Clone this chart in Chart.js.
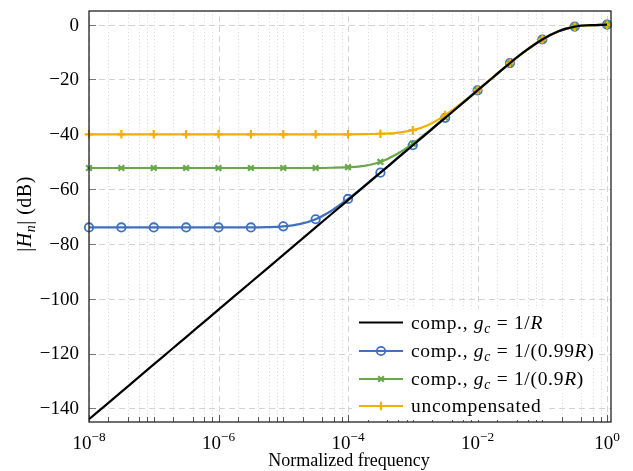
<!DOCTYPE html>
<html>
<head>
<meta charset="utf-8">
<script src="https://cdn.jsdelivr.net/npm/chart.js@4.4.0/dist/chart.umd.min.js"></script>
<style>
  html, body { margin: 0; padding: 0; background: #fff; }
  #wrap { width: 633px; height: 471px; position: relative; }
</style>
</head>
<body>
<div id="wrap"><canvas id="chart"></canvas></div>
<script>
// frequency points, as powers of ten (quarter decades)
const freqExp = [-8, -7.75, -7.5, -7.25, -7, -6.75, -6.5, -6.25, -6, -5.75, -5.5, -5.25, -5, -4.75, -4.5, -4.25,
    -4, -3.75, -3.5, -3.25, -3, -2.75, -2.5, -2.25, -2, -1.75, -1.5, -1.25, -1, -0.75, -0.5, -0.25, 0];

// |H_n| in dB
const compIdeal = [-144, -139, -134, -129, -124, -119, -114, -109, -104, -99, -94, -89, -84, -79, -74, -69,
    -64, -59, -54, -49, -44, -39, -34, -29, -24, -19, -14, -9.4, -5.4, -2.4, -0.7, -0.15, 0];
const comp099 = [-74, -74, -74, -74, -74, -74, -74, -74, -74, -74, -74, -73.9, -73.6, -72.8, -71.0, -67.8,
    -63.6, -58.9, -54.0, -49, -44, -39, -34, -29, -24, -19, -14, -9.4, -5.4, -2.4, -0.7, -0.15, 0];
const comp090 = [-52.3, -52.3, -52.3, -52.3, -52.3, -52.3, -52.3, -52.3, -52.3, -52.3, -52.3, -52.3, -52.3, -52.3, -52.3, -52.2,
    -52.0, -51.5, -50.1, -47.3, -43.4, -38.8, -33.9, -29, -24, -19, -14, -9.4, -5.4, -2.4, -0.7, -0.15, 0];
const uncomp = [-40, -40, -40, -40, -40, -40, -40, -40, -40, -40, -40, -40, -40, -40, -40, -40,
    -40, -39.95, -39.8, -39.5, -38.5, -36.5, -33.0, -28.7, -23.9, -19, -14, -9.4, -5.4, -2.4, -0.7, -0.15, 0];

const xTickExp = [-8, -6, -4, -2, 0];
const yTicks = [0, -20, -40, -60, -80, -100, -120, -140];

const colors = {
    black: '#000000',
    blue: '#3f6fc0',
    green: '#68a84a',
    orange: '#f0b000'
};

const serif = '"Liberation Serif", "Times New Roman", serif';

const toPoints = function (vals) {
    return vals.map(function (v, i) { return { x: Math.pow(10, freqExp[i]), y: v }; });
};

// markers only on the half-decade points
const markerAt = function (r) {
    return function (ctx) { return ctx.dataIndex % 2 === 0 ? r : 0; };
};

// legend rows, math parts in italic
const legendRows = [
    { color: colors.black, marker: null,
      parts: [{ t: 'comp., ' }, { t: 'g', i: 1 }, { t: 'c', i: 1, sub: 1 }, { t: ' = 1/' }, { t: 'R', i: 1 }] },
    { color: colors.blue, marker: 'circle',
      parts: [{ t: 'comp., ' }, { t: 'g', i: 1 }, { t: 'c', i: 1, sub: 1 }, { t: ' = 1/(0.99' }, { t: 'R', i: 1 }, { t: ')' }] },
    { color: colors.green, marker: 'crossRot',
      parts: [{ t: 'comp., ' }, { t: 'g', i: 1 }, { t: 'c', i: 1, sub: 1 }, { t: ' = 1/(0.9' }, { t: 'R', i: 1 }, { t: ')' }] },
    { color: colors.orange, marker: 'cross', parts: [{ t: 'uncompensated' }] }
];

function partFont(p, size) {
    let s = p.sub || p.sup ? size * 0.7 : size;
    return (p.i ? 'italic ' : '') + s + 'px ' + serif;
}

function richWidth(ctx, parts, size, sp) {
    let w = 0;
    ctx.letterSpacing = (sp || 0) + 'px';
    parts.forEach(function (p) {
        ctx.font = partFont(p, size);
        w += ctx.measureText(p.t).width;
    });
    ctx.letterSpacing = '0px';
    return w;
}

function drawRich(ctx, x, y, parts, size, sp) {
    ctx.textAlign = 'left';
    ctx.textBaseline = 'alphabetic';
    ctx.letterSpacing = (sp || 0) + 'px';
    parts.forEach(function (p) {
        ctx.font = partFont(p, size);
        let dy = p.sub ? size * 0.22 : (p.sup ? -size * 0.42 : 0);
        ctx.fillText(p.t, x, y + dy);
        x += ctx.measureText(p.t).width;
    });
    ctx.letterSpacing = '0px';
    return x;
}

function drawMarker(ctx, type, x, y, color) {
    ctx.save();
    ctx.strokeStyle = color;
    ctx.lineWidth = type === 'circle' ? 1.8 : 2.2;
    ctx.setLineDash([]);
    ctx.beginPath();
    if (type === 'circle') {
        ctx.arc(x, y, 4.2, 0, Math.PI * 2);
    } else if (type === 'crossRot') {
        ctx.moveTo(x - 2.8, y - 2.8); ctx.lineTo(x + 2.8, y + 2.8);
        ctx.moveTo(x - 2.8, y + 2.8); ctx.lineTo(x + 2.8, y - 2.8);
    } else if (type === 'cross') {
        ctx.moveTo(x, y - 4.3); ctx.lineTo(x, y + 4.3);
        ctx.moveTo(x - 4.3, y); ctx.lineTo(x + 4.3, y);
    }
    ctx.stroke();
    ctx.restore();
}

const gridPlugin = {
    id: 'pgfGrid',
    beforeDatasetsDraw(chart) {
        const ctx = chart.ctx;
        const area = chart.chartArea;
        const xs = chart.scales.x, ys = chart.scales.y;
        ctx.save();
        ctx.lineWidth = 1;

        // minor grid: 2,4,6,8 x 10^k and odd decades
        ctx.strokeStyle = '#d6d6d6';
        ctx.setLineDash([1, 2.5]);
        for (let d = -8; d < 0; d++) {
            [2, 4, 6, 8, 10].forEach(function (m) {
                let v = m * Math.pow(10, d);
                if (m === 10 && (d + 1) % 2 === 0) return;
                let px = Math.round(xs.getPixelForValue(v)) + 0.5;
                ctx.beginPath();
                ctx.moveTo(px, area.top);
                ctx.lineTo(px, area.bottom);
                ctx.stroke();
            });
        }

        // major grid
        ctx.strokeStyle = '#d2d2d2';
        ctx.setLineDash([6, 4]);
        xTickExp.forEach(function (e) {
            let px = Math.round(xs.getPixelForValue(Math.pow(10, e))) + 0.5;
            ctx.beginPath();
            ctx.moveTo(px, area.bottom);
            ctx.lineTo(px, area.top);
            ctx.stroke();
        });
        yTicks.forEach(function (t) {
            let py = Math.round(ys.getPixelForValue(t)) + 0.5;
            ctx.beginPath();
            ctx.moveTo(area.left, py);
            ctx.lineTo(area.right, py);
            ctx.stroke();
        });

        // tick marks, pointing inward
        ctx.setLineDash([]);
        ctx.strokeStyle = '#555';
        for (let d = -8; d < 0; d++) {
            [2, 4, 6, 8, 10].forEach(function (m) {
                let v = m * Math.pow(10, d);
                if (m === 10 && (d + 1) % 2 === 0) return;
                let px = Math.round(xs.getPixelForValue(v)) + 0.5;
                ctx.beginPath();
                ctx.moveTo(px, area.bottom);
                ctx.lineTo(px, area.bottom - 5);
                ctx.stroke();
            });
        }
        xTickExp.forEach(function (e) {
            let px = Math.round(xs.getPixelForValue(Math.pow(10, e))) + 0.5;
            ctx.beginPath();
            ctx.moveTo(px, area.bottom);
            ctx.lineTo(px, area.bottom - 7);
            ctx.stroke();
        });
        ctx.strokeStyle = '#777';
        yTicks.forEach(function (t) {
            let py = Math.round(ys.getPixelForValue(t)) + 0.5;
            ctx.beginPath();
            ctx.moveTo(area.left, py);
            ctx.lineTo(area.left + 7, py);
            ctx.stroke();
        });
        ctx.restore();
    },
    afterDraw(chart) {
        const ctx = chart.ctx;
        const area = chart.chartArea;
        const xs = chart.scales.x, ys = chart.scales.y;
        ctx.save();

        // frame
        ctx.strokeStyle = '#222';
        ctx.lineWidth = 1.3;
        ctx.strokeRect(area.left, area.top, area.right - area.left, area.bottom - area.top);

        ctx.fillStyle = '#000';
        // y tick labels
        ctx.font = '19px ' + serif;
        ctx.textAlign = 'right';
        ctx.textBaseline = 'middle';
        yTicks.forEach(function (t) {
            let label = t < 0 ? '\u2212' + Math.abs(t) : String(t);
            ctx.fillText(label, area.left - 10, ys.getPixelForValue(t) + 1);
        });

        // x tick labels 10^k
        xTickExp.forEach(function (e) {
            let parts = [{ t: '10' }, { t: e < 0 ? '\u2212' + Math.abs(e) : String(e), sup: 1 }];
            let w = richWidth(ctx, parts, 19);
            let px = xs.getPixelForValue(Math.pow(10, e));
            drawRich(ctx, px - w / 2, area.bottom + 27, parts, 19);
        });

        // axis titles
        ctx.font = '18px ' + serif;
        ctx.textAlign = 'center';
        ctx.textBaseline = 'alphabetic';
        ctx.fillText('Normalized frequency', 349, 466);

        let yParts = [{ t: '|' }, { t: 'H', i: 1 }, { t: 'n', i: 1, sub: 1 }, { t: '| (dB)' }];
        ctx.save();
        ctx.translate(31, 214);
        ctx.rotate(-Math.PI / 2);
        let yw = richWidth(ctx, yParts, 20, 0.5);
        drawRich(ctx, -yw / 2, 0, yParts, 20, 0.5);
        ctx.restore();

        // legend
        const rowY = [322.5, 351, 379, 406];
        legendRows.forEach(function (row, i) {
            let y = rowY[i];
            let tw = richWidth(ctx, row.parts, 19.5, 0.7);
            ctx.fillStyle = '#fff';
            ctx.fillRect(352, y - 14, 411 + tw + 4 - 352, 28);
            ctx.strokeStyle = row.color;
            ctx.lineWidth = 2;
            ctx.beginPath();
            ctx.moveTo(359, y);
            ctx.lineTo(403, y);
            ctx.stroke();
            if (row.marker) drawMarker(ctx, row.marker, 381, y, row.color);
            ctx.fillStyle = '#000';
            drawRich(ctx, 411, y + 6, row.parts, 19.5, 0.7);
        });
        ctx.restore();
    }
};

new Chart(document.getElementById('chart'), {
    type: 'line',
    data: {
        datasets: [
            {
                label: 'comp., gc = 1/R',
                data: toPoints(compIdeal),
                borderColor: colors.black,
                borderWidth: 2.2,
                pointRadius: 0,
                order: 0
            },
            {
                label: 'uncompensated',
                data: toPoints(uncomp),
                borderColor: colors.orange,
                backgroundColor: colors.orange,
                borderWidth: 2.2,
                pointStyle: 'cross',
                pointRadius: markerAt(4.3),
                pointBorderWidth: 2.2,
                order: 1
            },
            {
                label: 'comp., gc = 1/(0.9R)',
                data: toPoints(comp090),
                borderColor: colors.green,
                backgroundColor: colors.green,
                borderWidth: 2.2,
                pointStyle: 'crossRot',
                pointRadius: markerAt(4),
                pointBorderWidth: 2.2,
                order: 2
            },
            {
                label: 'comp., gc = 1/(0.99R)',
                data: toPoints(comp099),
                borderColor: colors.blue,
                backgroundColor: 'rgba(0,0,0,0)',
                borderWidth: 2.2,
                pointStyle: 'circle',
                pointRadius: markerAt(4.2),
                pointBorderWidth: 1.8,
                order: 3
            }
        ]
    },
    options: {
        responsive: true,
        maintainAspectRatio: false,
        animation: false,
        events: [],
        layout: { padding: { left: 89, right: 22, top: 11, bottom: 49 } },
        elements: { line: { cubicInterpolationMode: 'monotone' } },
        datasets: { line: { clip: false } },
        scales: {
            x: { type: 'logarithmic', min: 1e-8, max: 1.15, display: false },
            y: { type: 'linear', min: -145, max: 5, display: false }
        },
        plugins: {
            legend: { display: false },
            tooltip: { enabled: false }
        }
    },
    plugins: [gridPlugin]
});
</script>
</body>
</html>
